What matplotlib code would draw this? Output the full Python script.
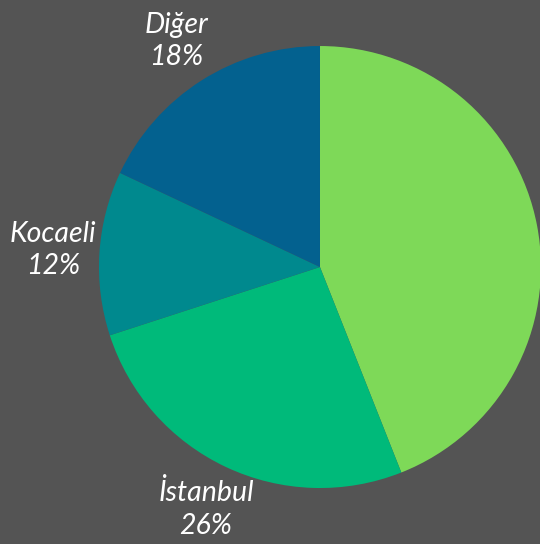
import matplotlib.pyplot as plt

# pay dagilimi (saat yonunde, tepeden baslayarak)
labels = ['', 'İstanbul', 'Kocaeli', 'Diğer']
values = [44, 26, 12, 18]
colors = ['#7ED958', '#00BA7A', '#00898E', '#03618F']

bg = '#545454'
fig = plt.figure(figsize=(5.4, 5.44), dpi=100, facecolor=bg)
ax = fig.add_axes([0.1833, 0.1029, 0.8185, 0.8125])
ax.set_facecolor(bg)

texts = [l + '\n' + str(v) + '%' if l else '' for l, v in zip(labels, values)]
wedges, txt = ax.pie(values, labels=texts, colors=colors, startangle=90,
                     counterclock=False, labeldistance=1.21,
                     textprops=dict(color='white', fontsize=20.5, style='italic',
                                    family='Lato', fontweight='normal',
                                    linespacing=1.3))
for t in txt:
    t.set_ha('center')
    t.set_va('center')
ax.set_xlim(-1, 1); ax.set_ylim(-1, 1)
ax.set_aspect('equal')

fig.savefig('out.png', dpi=100, facecolor=bg)
